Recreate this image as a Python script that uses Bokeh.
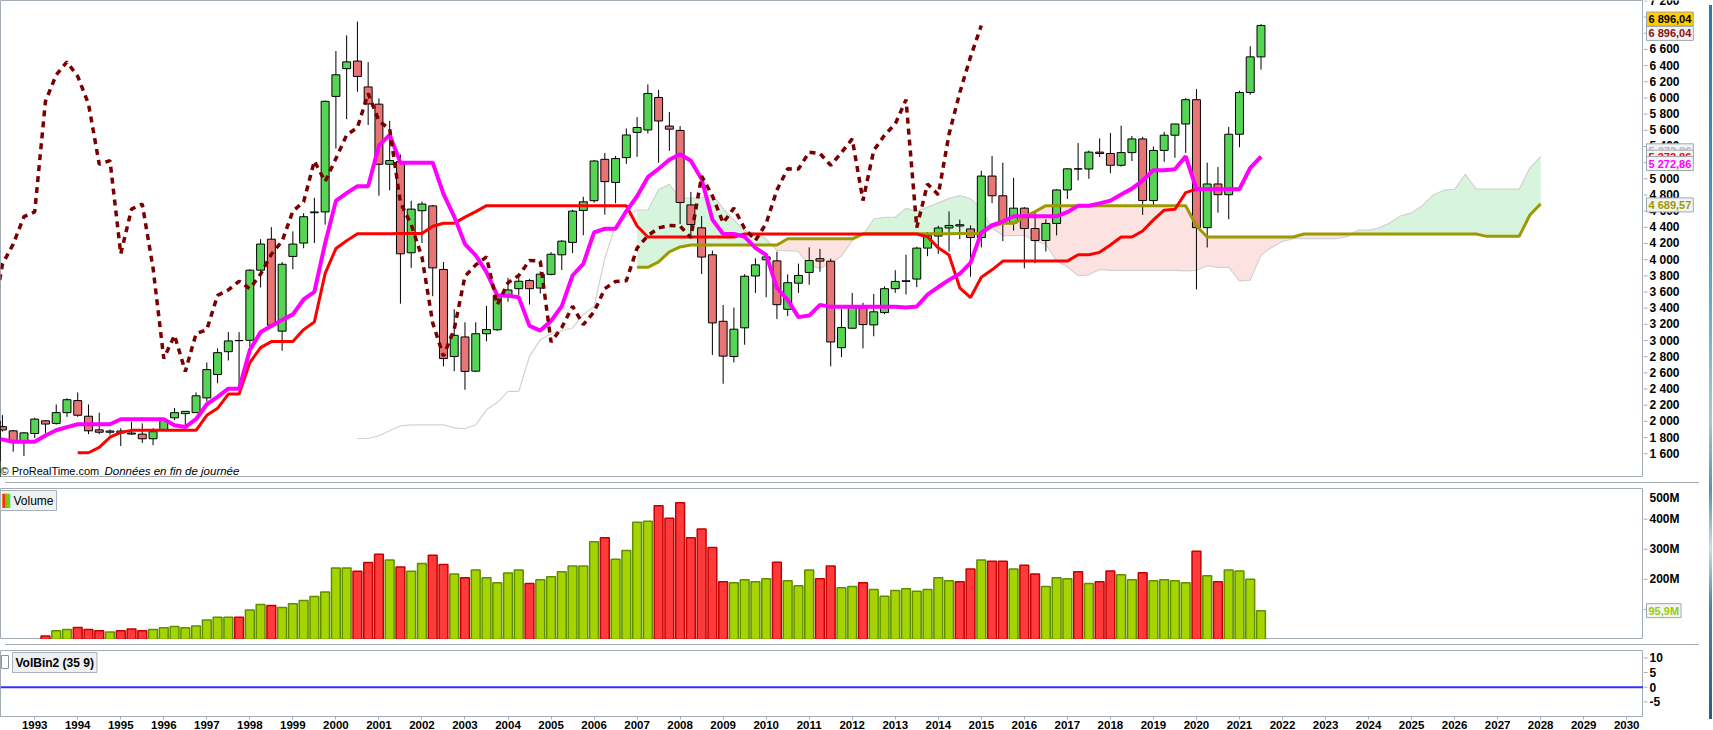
import math
from bokeh.plotting import figure
from bokeh.models import Range1d, FixedTicker, Label, Div, Span, ColumnDataSource
from bokeh.layouts import column, row
from bokeh.embed import file_html
from bokeh.resources import INLINE
from bokeh.core.properties import value

# ---------------- DATA (CAC 40, quarterly, 1987Q4 .. 2021Q3) ----------------
first_year, first_q = 1987, 4
opens = [1000,
 1000, 1020, 1290, 1380,  1573, 1680, 1760, 1930,  2001, 1990, 1980, 1560,
 1518, 1760, 1730, 1830,  1766, 1935, 1883, 1750,  1850, 2007, 1975, 2108,
 2257, 2064, 1895, 1866,  1881, 1856, 1842, 1785,  1894, 2044, 2096, 2108,
 2290, 2580, 2862, 3000,  3003, 3870, 4253, 3116,  4040, 4205, 4580, 4590,
 6019, 6362, 6456, 6136,  5923, 5180, 5213, 4085,  4605, 4665, 3879, 2802,
 3044, 2621, 3084, 3133,  3548, 3641, 3741, 3649,  3818, 4060, 4213, 4609,
 4729, 5241, 4955, 5262,  5574, 5604, 6006, 5652,  5598, 4677, 4394, 4060,
 3238, 2802, 3157, 3798,  3998, 3985, 3386, 3709,  3842, 4012, 3981, 2911,
 3152, 3405, 3193, 3345,  3641, 3731, 3760, 4143,  4292, 4392, 4432, 4380,
 4273, 5034, 4790, 4455,  4637, 4385, 4237, 4448,  4862, 5123, 5121, 5330,
 5313, 5167, 5324, 5493,  4731, 5351, 5539, 5678,  5978, 4396, 4936, 4803,
 5551, 6067, 6508]
highs = [1000,
 1060, 1300, 1400, 1580,  1700, 1800, 1990, 2010,  2070, 2130, 2000, 1650,
 1800, 1850, 1870, 1850,  2050, 2077, 1895, 1867,  2044, 2015, 2209, 2286,
 2358, 2209, 2108, 1900,  1915, 1995, 1975, 1915,  2036, 2165, 2124, 2358,
 2729, 2903, 3104, 3104,  3882, 4253, 4402, 3971,  4350, 4575, 4765, 5967,
 6580, 6773, 6944, 6443,  5995, 5717, 5301, 4729,  4717, 4677, 3971, 3387,
 3226, 3226, 3427, 3575,  3775, 3788, 3760, 3855,  4093, 4241, 4617, 4778,
 5233, 5320, 5283, 5622,  5763, 6168, 6100, 5827,  5652, 4838, 4539, 4113,
 3440, 3407, 3820, 4017,  4071, 4100, 3818, 3951,  4152, 4133, 4012, 3387,
 3589, 3467, 3577, 3669,  3870, 4060, 4160, 4340,  4420, 4597, 4496, 4424,
 5100, 5283, 5200, 5011,  4650, 4600, 4500, 4870,  5130, 5442, 5350, 5500,
 5567, 5657, 5530, 5520,  5400, 5580, 5680, 6000,  6111, 5200, 5145, 5640,
 6090, 6640, 6913.66]
lows = [1000,
 866, 1000, 1250, 1370,  1550, 1640, 1740, 1750,  1850, 1920, 1500, 1480,
 1420, 1680, 1650, 1640,  1760, 1874, 1625, 1572,  1794, 1854, 1960, 2056,
 2056, 1842, 1842, 1835,  1695, 1835, 1733, 1705,  1882, 2015, 1955, 2108,
 2245, 2471, 2753, 2440,  2923, 3656, 3180, 2874,  3882, 4141, 4205, 4433,
 5374, 5737, 6076, 5665,  4790, 4858, 3456, 3899,  4205, 3548, 2681, 2621,
 2391, 2609, 2991, 3120,  3480, 3560, 3444, 3580,  3806, 3872, 4081, 4302,
 4705, 4556, 4697, 5185,  5271, 5560, 5200, 5346,  4440, 4278, 3822, 2823,
 2465.46, 2730, 2948, 3589,  3536, 3265, 3304, 3589,  3689, 3850, 2681, 2794,
 3145, 2903, 3052, 3326,  3589, 3568, 3659, 4043,  4071, 4100, 4254, 3789,
 4150, 4700, 4230, 4360,  3892, 3956, 4100, 4300,  4750, 4980, 5000, 5270,
 5070, 5150, 5220, 4555,  4660, 5210, 5260, 5320,  3632.06, 4150, 4580, 4500,
 5390, 6040, 6350]
closes = [1000,
 1020, 1290, 1380, 1573,  1680, 1760, 1930, 2001,  1990, 1980, 1560, 1518,
 1760, 1730, 1830, 1766,  1935, 1894, 1740, 1858,  2028, 1967, 2108, 2268,
 2076, 1883, 1866, 1881,  1856, 1843, 1785, 1872,  2015, 2108, 2124, 2316,
 2640, 2850, 2995, 2998,  3870, 4193, 3190, 3943,  4193, 4531, 4590, 5958,
 6286, 6446, 6266, 5926,  5180, 5225, 4072, 4625,  4688, 3898, 2777, 3064,
 2618, 3084, 3135, 3558,  3625, 3733, 3641, 3821,  4067, 4229, 4600, 4715,
 5220, 4965, 5250, 5542,  5634, 6055, 5715, 5614,  4707, 4434, 4032, 3218,
 2807, 3140, 3795, 3936,  4034, 3443, 3715, 3805,  3989, 3982, 2982, 3160,
 3424, 3197, 3355, 3641,  3731, 3739, 4143, 4296,  4392, 4423, 4416, 4273,
 5034, 4790, 4455, 4637,  4385, 4237, 4448, 4862,  5123, 5121, 5330, 5313,
 5167, 5324, 5493, 4731,  5351, 5539, 5678, 5978,  4396, 4936, 4803, 5551,
 6067, 6508, 6896.04]
# volume (millions), 1993Q2 .. 2021Q3
volume_start = (1993, 2)
volumes_m = [12, 29, 33, 40, 33, 29, 25, 29, 35, 29,
 33, 39, 43, 39, 45, 65, 74, 74, 74, 98,
 116, 113, 106, 119, 130, 143, 158, 238, 238, 227,
 256, 283, 264, 241, 227, 253, 280, 249, 218, 205,
 231, 205, 189, 221, 231, 186, 199, 209, 225, 244,
 244, 325, 338, 267, 296, 390, 393, 445, 403, 455,
 338, 367, 306, 192, 189, 199, 192, 202, 257, 195,
 179, 231, 202, 244, 172, 176, 189, 166, 144, 163,
 169, 160, 166, 205, 195, 192, 234, 264, 260, 260,
 234, 247, 218, 176, 205, 202, 225, 186, 192, 228,
 215, 199, 222, 195, 199, 195, 189, 293, 212, 192,
 231, 228, 200, 95.9]
volbin_level = 0
price_ticks = list(range(1600, 7201, 200))
volume_ticks = [100e6, 200e6, 300e6, 400e6]
volume_tick_labels = ["100M", "200M", "300M", "400M"]
volume_top_label = "500M"
volbin_ticks = [-5, 0, 5, 10]
year_ticks = list(range(1993, 2031))
tenkan_n, kijun_n, senkou_n, shift = 9, 26, 52, 26
# value boxes on the price scale: (text, text colour, background, level)
price_boxes = [("6 896,04", "#000000", "#ffcc00", 6976),
               ("6 896,04", "#8b1010", "#f3f4f5", 6798),
               ("5 272,86", "#b8b8b8", "#f3f4f5", 5346),
               ("5 272,86", "#ff0000", "#f3f4f5", 5268),
               ("5 272,86", "#ff00ff", "#f3f4f5", 5189),
               ("4 689,57", "#9c9a00", "#f3f4f5", 4677)]
volume_box = ("95,9M", "#99cc00")

# ---------------- derived positions / indicators ----------------
n = len(closes)
def qpos(year, q):
    return year + (q - 1) / 4.0
periods = []
y, q = first_year, first_q
for i in range(n + shift):
    periods.append((y, q))
    q += 1
    if q > 4:
        q, y = 1, y + 1
xs = [qpos(a, b) for a, b in periods]
xb = xs[:n]

def midpoint(i, k):
    if i - k + 1 < 0:
        return float("nan")
    return (max(highs[i - k + 1:i + 1]) + min(lows[i - k + 1:i + 1])) / 2.0

tenkan = [midpoint(i, tenkan_n) for i in range(n)]
kijun = [midpoint(i, kijun_n) for i in range(n)]
ssa = [float("nan")] * (n + shift)
ssb = [float("nan")] * (n + shift)
for i in range(n):
    if not (math.isnan(tenkan[i]) or math.isnan(kijun[i])):
        ssa[i + shift] = (tenkan[i] + kijun[i]) / 2.0
    v = midpoint(i, senkou_n)
    if not math.isnan(v):
        ssb[i + shift] = v
chikou_x = [xs[i - shift] for i in range(shift, n)]
chikou_y = [closes[i] for i in range(shift, n)]

cx, ca, cb = [], [], []
idx = [i for i in range(n + shift) if not math.isnan(ssa[i]) and not math.isnan(ssb[i])]
for k, i in enumerate(idx):
    if k > 0:
        j = idx[k - 1]
        d0 = ssa[j] - ssb[j]
        d1 = ssa[i] - ssb[i]
        if d0 * d1 < 0:
            f = d0 / (d0 - d1)
            xx = xs[j] + f * (xs[i] - xs[j])
            yy = ssa[j] + f * (ssa[i] - ssa[j])
            cx.append(xx); ca.append(yy); cb.append(yy)
    cx.append(xs[i]); ca.append(ssa[i]); cb.append(ssb[i])
cmax = [max(a, b) for a, b in zip(ca, cb)]

# ---------------- layout ----------------
FRAME_W = 1643
AXW = 51
STRIP = 3
x0, x1 = 1992.205, 2030.39
FONT = "Liberation Sans"
AX = "#a3acb4"
xr = Range1d(x0, x1)

def mkfig(h, yr, bottom=0, xaxis=False):
    f = figure(width=FRAME_W, height=h, x_range=xr, y_range=yr, output_backend="svg",
               toolbar_location=None, y_axis_location=None,
               x_axis_location="below" if xaxis else None,
               min_border_left=0, min_border_right=0,
               min_border_top=0, min_border_bottom=bottom)
    f.grid.visible = False
    f.outline_line_color = AX
    f.background_fill_color = "#ffffff"
    f.border_fill_color = "#ffffff"
    return f

def mkaxis(h, yr, ticks, labels, bottom=0):
    a = figure(width=AXW, height=h, x_range=Range1d(0, AXW), y_range=yr,
               output_backend="svg", toolbar_location=None,
               x_axis_location=None, y_axis_location=None,
               min_border_left=0, min_border_right=0,
               min_border_top=0, min_border_bottom=bottom)
    a.grid.visible = False
    a.outline_line_color = None
    a.border_fill_color = "#ffffff"
    a.segment(x0=[0] * len(ticks), y0=ticks, x1=[4] * len(ticks), y1=ticks,
              line_color=AX, line_width=1)
    a.text(x=[6] * len(ticks), y=ticks, text=labels, text_font=value(FONT),
           text_font_style="bold", text_font_size="12px", text_color="#000000",
           text_baseline="middle", text_align="left")
    return a

def box(fig, yv, text, color, bg="#f3f4f5"):
    fig.add_layout(Label(x=3, y=yv, text=text, text_font=FONT,
                         text_font_style="bold", text_font_size="11px",
                         text_color=color, text_align="left", text_baseline="middle",
                         background_fill_color=bg, border_line_color="#a0a8b0",
                         padding=(2, 1)))

# ---------------- price pane ----------------
PH = 477
pyr = Range1d(1306, 7205)
p = mkfig(PH, pyr)
p.varea(x=cx, y1=cb, y2=cmax, fill_color="#d6f5dc", fill_alpha=1)
p.varea(x=cx, y1=ca, y2=cmax, fill_color="#fde2e2", fill_alpha=1)
p.line(xs, ssa, line_color="#d2d2d2", line_width=1.2)

up = [c >= o for o, c in zip(opens, closes)]
csrc = ColumnDataSource(dict(
    x=xb, high=highs, low=lows,
    top=[max(o, c) for o, c in zip(opens, closes)],
    bottom=[min(o, c) for o, c in zip(opens, closes)],
    color=["#55d455" if u else "#e77575" for u in up]))
p.segment(x0="x", y0="high", x1="x", y1="low", source=csrc, line_color="#000000", line_width=1)
p.vbar(x="x", top="top", bottom="bottom", width=0.185, source=csrc,
       fill_color="color", line_color="#000000", line_width=1)

p.line(xs, ssb, line_color="#9c9a00", line_width=3)
p.line(xb, kijun, line_color="#ff0000", line_width=3)
p.line(xb, tenkan, line_color="#ff00ff", line_width=4)
p.line(chikou_x, chikou_y, line_color="#7a0000", line_width=3.5, line_dash="6 5")

p.add_layout(Label(x=x0, y=1306, x_offset=0, y_offset=1, text="© ProRealTime.com",
                   text_font=FONT, text_font_size="11px", text_color="#000000",
                   text_baseline="bottom"))
p.add_layout(Label(x=x0, y=1306, x_offset=104, y_offset=1, text="Données en fin de journée",
                   text_font=FONT, text_font_size="11.5px", text_font_style="italic",
                   text_color="#000000", text_baseline="bottom"))

pa = mkaxis(PH, pyr, price_ticks, [f"{v:,}".replace(",", " ") for v in price_ticks])
for text, col, bg, yv in price_boxes:
    box(pa, yv, text, col, bg)

# ---------------- volume pane ----------------
VH = 151
vyr = Range1d(0, 502e6)
vx = xb[[i for i, pr in enumerate(periods[:n]) if pr == volume_start][0]:]
vup = up[-len(volumes_m):]
vsrc = ColumnDataSource(dict(
    x=vx, top=[v * 1e6 for v in volumes_m],
    fill=["#a6d400" if u else "#ff3a3a" for u in vup],
    line=["#5f8f00" if u else "#c40000" for u in vup]))
pv = mkfig(VH, vyr)
pv.vbar(x="x", top="top", bottom=0, width=0.205, source=vsrc,
        fill_color="fill", line_color="line", line_width=1.5)
pv.add_layout(Label(x=x0, y=502e6, x_offset=0, y_offset=-2,
                    text="\u00a0\u00a0\u00a0Volume",
                    text_font=FONT, text_font_size="12px", text_color="#000000",
                    text_baseline="top", padding=3,
                    background_fill_color="#eef0f2", border_line_color="#a9b1b8"))
pv.add_layout(Label(x=x0, y=502e6, x_offset=2, y_offset=-5, text="▌",
                    text_font="DejaVu Sans", text_font_size="12px", text_color="#ff2a2a",
                    text_baseline="top"))
pv.add_layout(Label(x=x0, y=502e6, x_offset=5, y_offset=-5, text="▌",
                    text_font="DejaVu Sans", text_font_size="12px", text_color="#7ccc00",
                    text_baseline="top"))

pva = mkaxis(VH, vyr, volume_ticks, volume_tick_labels)
pva.add_layout(Label(x=6, y=502e6, y_offset=-2, text=volume_top_label, text_font=FONT,
                     text_font_style="bold", text_font_size="12px", text_color="#000000",
                     text_baseline="top", text_align="left"))
box(pva, volumes_m[-1] * 1e6, volume_box[0], volume_box[1])

# ---------------- VolBin2 pane ----------------
BH = 84
BB = 18
byr = Range1d(-10, 12.5)
pb = mkfig(BH, byr, bottom=BB, xaxis=True)
pb.add_layout(Span(location=volbin_level, dimension="width", line_color="#3030ff", line_width=2))
xa = pb.xaxis[0]
xa.ticker = FixedTicker(ticks=year_ticks)
xa.major_label_overrides = {v: str(v) for v in year_ticks}
xa.major_label_text_font = FONT
xa.major_label_text_font_style = "bold"
xa.major_label_text_font_size = "11.5px"
xa.major_label_text_color = "#000000"
xa.axis_line_color = AX
xa.major_tick_line_color = AX
xa.major_tick_out = 3
xa.major_tick_in = 0
xa.minor_tick_line_color = None
xa.major_label_standoff = 1
pb.add_layout(Label(x=x0, y=12.5, x_offset=12, y_offset=-2, text="VolBin2 (35 9)",
                    text_font=FONT, text_font_size="12px", text_font_style="bold",
                    text_color="#000000", text_baseline="top", padding=3,
                    background_fill_color="#eef0f2", border_line_color="#a9b1b8"))
pb.add_layout(Label(x=x0, y=12.5, x_offset=1, y_offset=-5, text="\u2002",
                    text_font=FONT, text_font_size="10px", text_baseline="top", padding=1,
                    background_fill_color="#ffffff", border_line_color="#8a949c"))
pba = mkaxis(BH, byr, volbin_ticks, [str(v) for v in volbin_ticks], bottom=BB)

def sep():
    return Div(width=FRAME_W + AXW, height=1, styles={"background-color": AX})

strip = Div(width=STRIP, height=PH + VH + BH + 2, styles={
    "background": "linear-gradient(180deg, #2b76b3 0%, #3d8cc4 22%, #6aa9c9 42%, "
                  "#a7c6d0 58%, #5a92ab 68%, #cfdde2 76%, #4a86a3 84%, #2a5f7c 100%)"})
layout = row(column(row(p, pa), sep(), row(pv, pva), sep(), row(pb, pba)), strip)

open("out.html", "w").write(file_html(layout, INLINE))
